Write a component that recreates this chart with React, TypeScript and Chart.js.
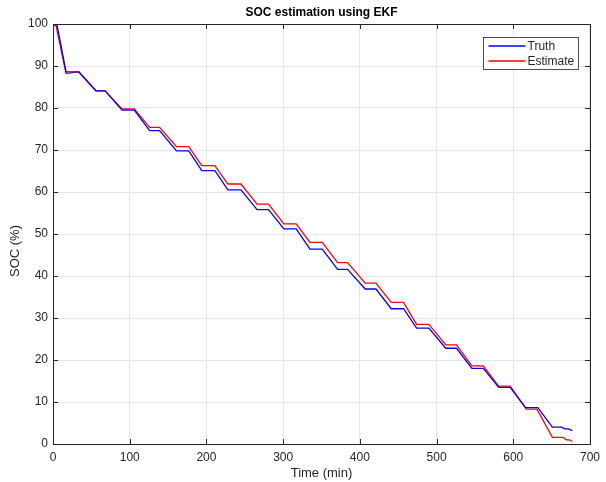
import React, { useEffect, useRef } from "react";
import { Chart, registerables } from "chart.js";

Chart.register(...registerables);

// ---- Data ----
const titleText = "SOC estimation using EKF";
const xTitle = "Time (min)";
const yTitle = "SOC (%)";
const seriesLabels = ["Truth", "Estimate"];

const timeTruth = [
  0, 5, 17, 34, 56, 68, 90, 106, 126, 139, 161, 177, 194, 211, 228, 245, 266, 281,
  301, 317, 335, 351, 371, 384, 407, 421, 441, 457, 474, 490, 512, 526, 546, 561,
  581, 596, 616, 632, 651, 663, 667, 672, 677,
];
const socTruth = [
  100, 100, 88.6, 88.6, 84.1, 84.1, 79.5, 79.5, 74.6, 74.6, 69.8, 69.8, 65.1, 65.1,
  60.5, 60.5, 55.8, 55.8, 51.2, 51.2, 46.4, 46.4, 41.6, 41.6, 36.9, 36.9, 32.2, 32.2,
  27.6, 27.6, 22.8, 22.8, 18.0, 18.0, 13.5, 13.5, 8.65, 8.65, 4.0, 4.0, 3.6, 3.6, 3.2,
];

const timeEst = [
  0, 4, 17, 33, 56, 68, 90, 106, 126, 139, 161, 177, 194, 211, 228, 245, 266, 281,
  301, 317, 335, 351, 371, 384, 407, 421, 441, 457, 474, 490, 512, 526, 546, 561,
  581, 596, 617, 631, 651, 665, 669, 673, 677,
];
const socEst = [
  99.6, 99.6, 88.2, 88.6, 84.1, 84.1, 79.8, 79.8, 75.4, 75.4, 70.8, 70.8, 66.3, 66.3,
  61.9, 61.9, 57.1, 57.1, 52.4, 52.4, 48.0, 48.0, 43.2, 43.2, 38.3, 38.3, 33.7, 33.7,
  28.5, 28.5, 23.6, 23.6, 18.6, 18.6, 13.8, 13.8, 8.3, 8.3, 1.6, 1.6, 1.0, 1.0, 0.6,
];

const xTicks = [0, 100, 200, 300, 400, 500, 600, 700];
const yTicks = [0, 10, 20, 30, 40, 50, 60, 70, 80, 90, 100];

const seriesColors = ["#0000ff", "#ff0000"];

const FONT = "'Liberation Sans', Arial, Helvetica, sans-serif";
const AXIS = "#262626";
const GRID = "#e6e6e6";

const boxPlugin = {
  id: "matlabBox",
  afterDraw(chart: any) {
    const { ctx, chartArea: a, scales } = chart;
    ctx.save();
    ctx.strokeStyle = AXIS;
    ctx.lineWidth = 1;
    const tl = 5;
    const seg = (x1: number, y1: number, x2: number, y2: number) => {
      ctx.beginPath();
      ctx.moveTo(x1, y1);
      ctx.lineTo(x2, y2);
      ctx.stroke();
    };
    xTicks.forEach((v) => {
      const px = Math.round(scales.x.getPixelForValue(v)) + 0.5;
      seg(px, a.bottom, px, a.bottom - tl);
      seg(px, a.top, px, a.top + tl);
    });
    yTicks.forEach((v) => {
      const py = Math.round(scales.y.getPixelForValue(v)) + 0.5;
      seg(a.left, py, a.left + tl, py);
      seg(a.right, py, a.right - tl, py);
    });
    const L = Math.round(a.left) + 0.5;
    const T = Math.round(a.top) + 0.5;
    const R = Math.round(a.right) + 0.5;
    const B = Math.round(a.bottom) + 0.5;
    ctx.strokeRect(L, T, R - L, B - T);

    // y axis title
    ctx.save();
    ctx.translate(15, 251);
    ctx.rotate(-Math.PI / 2);
    ctx.fillStyle = AXIS;
    ctx.font = `13px ${FONT}`;
    ctx.textAlign = "center";
    ctx.textBaseline = "middle";
    ctx.fillText(yTitle, 0, 0);
    ctx.restore();

    // legend (MATLAB style, inside top-right)
    const lw = 95;
    const lh = 32;
    const lx = Math.round(a.right - 12 - lw) + 0.5;
    const ly = Math.round(a.top + 13) + 0.5;
    ctx.fillStyle = "#ffffff";
    ctx.fillRect(lx, ly, lw, lh);
    ctx.strokeStyle = AXIS;
    ctx.lineWidth = 0.8;
    ctx.strokeRect(lx, ly, lw, lh);
    ctx.font = `12px ${FONT}`;
    ctx.textBaseline = "middle";
    ctx.textAlign = "left";
    seriesLabels.forEach((lab, i) => {
      const yy = Math.round(ly + 8 + i * 15);
      ctx.strokeStyle = seriesColors[i];
      ctx.lineWidth = 1.3;
      seg(lx + 5, yy, lx + 42, yy);
      ctx.fillStyle = AXIS;
      ctx.fillText(lab, lx + 44, yy + 0.5);
    });
    ctx.restore();
  },
};

export default function App() {
  const ref = useRef<HTMLCanvasElement | null>(null);
  useEffect(() => {
    if (!ref.current) return;
    const chart = new Chart(ref.current, {
      type: "line",
      data: {
        datasets: [
          {
            label: seriesLabels[0],
            data: timeTruth.map((t, i) => ({ x: t, y: socTruth[i] })),
            borderColor: seriesColors[0],
            backgroundColor: seriesColors[0],
            borderWidth: 1.3,
            pointRadius: 0,
            tension: 0,
          },
          {
            label: seriesLabels[1],
            data: timeEst.map((t, i) => ({ x: t, y: socEst[i] })),
            borderColor: seriesColors[1],
            backgroundColor: seriesColors[1],
            borderWidth: 1.3,
            pointRadius: 0,
            tension: 0,
          },
        ],
      },
      options: {
        animation: false,
        responsive: false,
        devicePixelRatio: 1,
        layout: { padding: { left: 0, right: 11, top: 0, bottom: 0 } },
        plugins: {
          legend: { display: false },
          tooltip: { enabled: false },
          title: {
            display: true,
            text: titleText,
            fullSize: false,
            color: "#000000",
            font: { family: FONT, size: 12, weight: "bold" },
            padding: { top: 5, bottom: 4.6 },
          },
        },
        scales: {
          x: {
            type: "linear",
            min: 0,
            max: 700,
            afterFit: (s: any) => {
              s.height = 38;
            },
            afterBuildTicks: (s: any) => {
              s.ticks = xTicks.map((v) => ({ value: v }));
            },
            grid: { color: GRID, drawTicks: false, lineWidth: 1 },
            border: { display: false },
            ticks: {
              padding: 6,
              color: AXIS,
              font: { family: FONT, size: 12 },
              maxRotation: 0,
            },
            title: {
              display: true,
              text: xTitle,
              color: AXIS,
              font: { family: FONT, size: 13 },
              padding: { top: 0, bottom: 1 },
            },
          },
          y: {
            type: "linear",
            min: 0,
            max: 100,
            afterFit: (s: any) => {
              s.width = 53;
            },
            afterBuildTicks: (s: any) => {
              s.ticks = yTicks.map((v) => ({ value: v }));
            },
            grid: { color: GRID, drawTicks: false, lineWidth: 1 },
            border: { display: false },
            ticks: {
              padding: 5,
              color: AXIS,
              font: { family: FONT, size: 12 },
            },
            title: { display: false },
          },
        },
      },
      plugins: [boxPlugin],
    });
    return () => chart.destroy();
  }, []);

  return (
    <div
      style={{
        position: "fixed",
        left: 0,
        top: 0,
        width: 606,
        height: 482,
        background: "#ffffff",
      }}
    >
      <canvas ref={ref} width={606} height={482} style={{ width: 606, height: 482 }} />
    </div>
  );
}
